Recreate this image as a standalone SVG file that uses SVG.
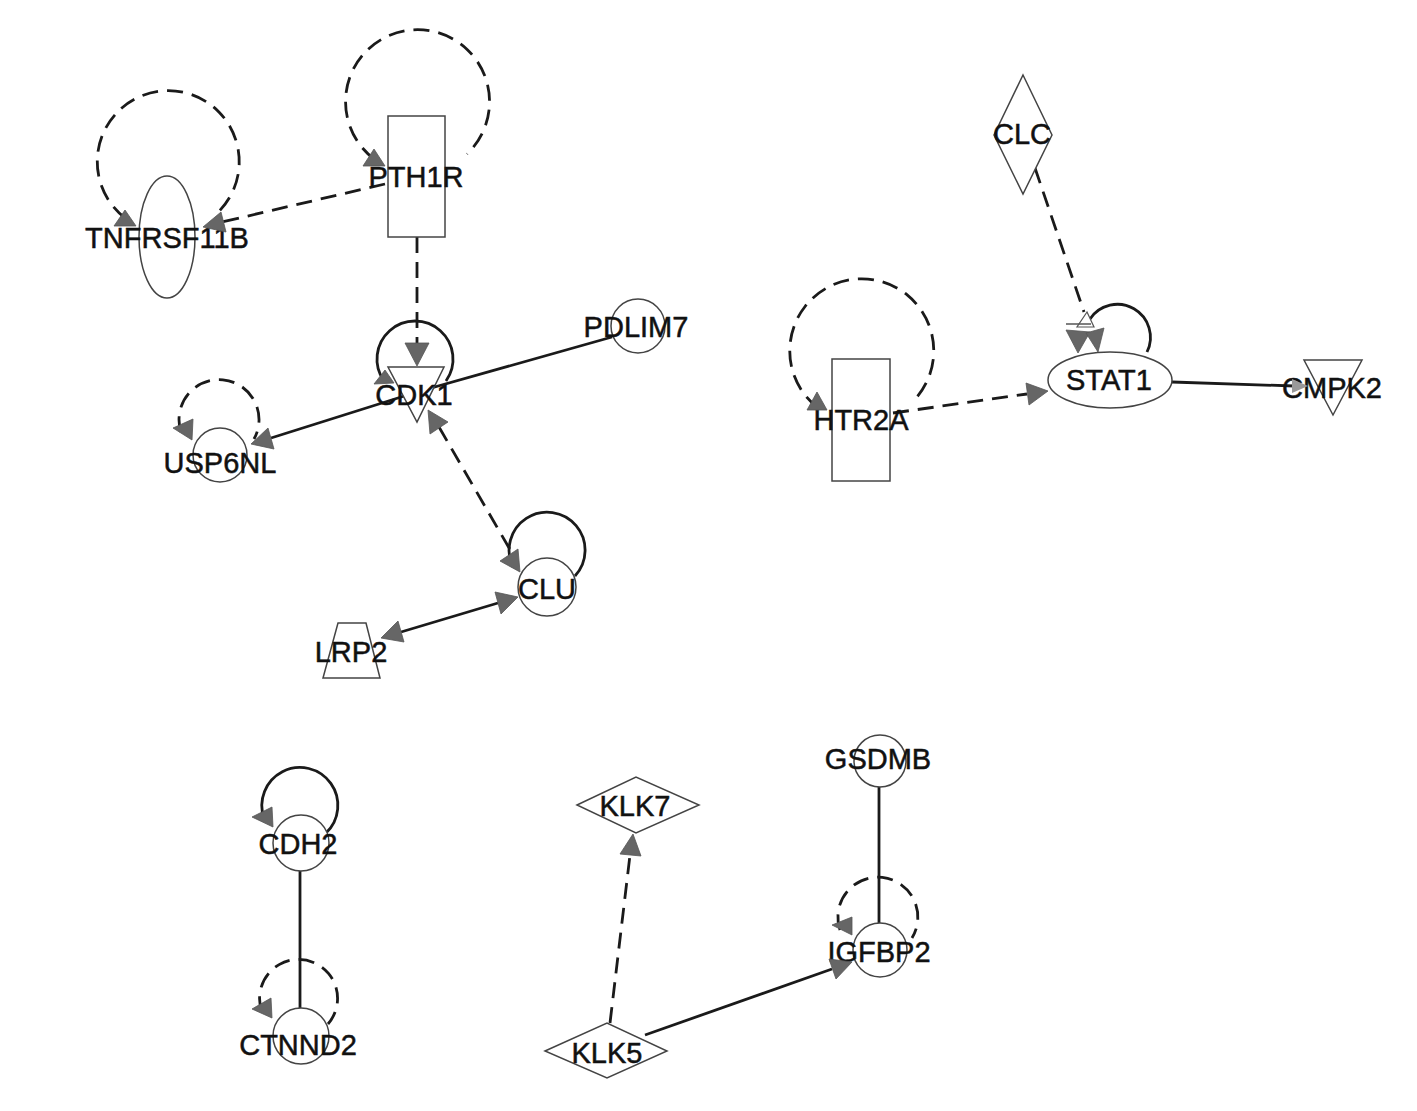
<svg xmlns="http://www.w3.org/2000/svg" width="1417" height="1111" viewBox="0 0 1417 1111">
<style>
.e{fill:none;stroke:#1a1a1a;stroke-width:2.8}
.d{stroke-dasharray:16 9}
.n{fill:#fff;stroke:#444;stroke-width:1.5}
.a{fill:#666;stroke:#555;stroke-width:0.8}
text{font-family:"Liberation Sans",Arial,sans-serif;font-size:29px;fill:#111;stroke:#111;stroke-width:0.5;text-anchor:middle}
</style>
<rect width="1417" height="1111" fill="#fff"/>
<g id="connectors">
<path class="e d" d="M125,218 A71,71 0 1 1 214,216"/>
<path class="e d" d="M374,159 A72,72 0 1 1 467,154"/>
<path class="e" d="M384,381 A38,38 0 1 1 446,381"/>
<path class="e d" d="M181,432 A40,40 0 1 1 254,439"/>
<path class="e" d="M513,567 A38,38 0 1 1 575,576"/>
<path class="e d" d="M818,408 A72,72 0 1 1 917,397"/>
<path class="e" d="M1090,319 A33,33 0 0 1 1147,352"/>
<path class="e" d="M264,818 A38,38 0 1 1 326,833"/>
<path class="e d" d="M262,1012 A39,39 0 1 1 328,1024"/>
<path class="e d" d="M840,930 A40,40 0 1 1 912,938"/>
<line class="e d" x1="385" y1="184" x2="222" y2="222"/>
<line class="e d" x1="417" y1="237" x2="417" y2="344"/>
<line class="e" x1="612" y1="337" x2="417" y2="392"/>
<line class="e" x1="417" y1="392" x2="271" y2="438"/>
<line class="e d" x1="439" y1="427" x2="512" y2="553"/>
<line class="e" x1="401" y1="632" x2="498" y2="603"/>
<line class="e d" x1="1035" y1="168" x2="1084" y2="312"/>
<line class="e d" x1="893" y1="413" x2="1027" y2="394"/>
<line class="e" x1="1172" y1="382" x2="1294" y2="386"/>
<line class="e" x1="300" y1="871" x2="300" y2="1008"/>
<line class="e" x1="879" y1="787" x2="879" y2="923"/>
<line class="e d" x1="610" y1="1023" x2="630" y2="855"/>
<line class="e" x1="645" y1="1035" x2="832" y2="969"/>
</g>
<g id="TNFRSF11B"><ellipse class="n" cx="167" cy="237" rx="28" ry="61"/><text x="167" y="248" font-size="30">TNFRSF11B</text></g>
<g id="PTH1R"><rect class="n" x="388" y="116" width="57" height="121"/><text x="416" y="187">PTH1R</text></g>
<g id="CDK1"><polygon class="n" points="388,367 444,367 417,422"/><text x="414" y="405">CDK1</text></g>
<g id="PDLIM7"><circle class="n" cx="638" cy="326" r="27"/><text x="636" y="337">PDLIM7</text></g>
<g id="USP6NL"><circle class="n" cx="220" cy="455" r="27"/><text x="220" y="473">USP6NL</text></g>
<g id="CLU"><circle class="n" cx="547" cy="587" r="29"/><text x="547" y="599">CLU</text></g>
<g id="LRP2"><polygon class="n" points="338,623 366,623 380,678 323,678"/><text x="351" y="662">LRP2</text></g>
<g id="CLC"><polygon class="n" points="1023,75 1052,135 1023,194 994,135"/><text x="1022" y="144">CLC</text></g>
<g id="HTR2A"><rect class="n" x="832" y="359" width="58" height="122"/><text x="861" y="430">HTR2A</text></g>
<g id="STAT1"><ellipse class="n" cx="1110" cy="380" rx="62" ry="28"/><text x="1109" y="390">STAT1</text></g>
<g id="CMPK2"><polygon class="n" points="1304,360 1362,360 1333,415"/><text x="1332" y="398">CMPK2</text></g>
<g id="CDH2"><circle class="n" cx="301" cy="843" r="28"/><text x="298" y="854">CDH2</text></g>
<g id="CTNND2"><circle class="n" cx="301" cy="1036" r="28"/><text x="298" y="1055">CTNND2</text></g>
<g id="KLK7"><polygon class="n" points="577,805 636,777 699,805 636,833"/><text x="635" y="816" font-size="27">KLK7</text></g>
<g id="KLK5"><polygon class="n" points="545,1051 607,1023 667,1051 607,1078"/><text x="607" y="1063">KLK5</text></g>
<g id="GSDMB"><circle class="n" cx="880" cy="761" r="26"/><text x="878" y="769">GSDMB</text></g>
<g id="IGFBP2"><circle class="n" cx="880" cy="950" r="27"/><text x="879" y="962">IGFBP2</text></g>
<g id="arrowheads">
<polygon class="a" points="125,210 114,226 136,226"/>
<polygon class="a" points="203,227 221,212 226,232"/>
<polygon class="a" points="374,149 363,166 385,166"/>
<polygon class="a" points="405,343 429,343 417,366"/>
<polygon class="a" points="385,370 374,384 394,383"/>
<polygon class="a" points="428,410 448,422 430,434"/>
<polygon class="a" points="251,444 268,428 274,449"/>
<polygon class="a" points="173,428 193,419 192,440"/>
<polygon class="a" points="520,572 518,549 500,561"/>
<polygon class="a" points="518,597 501,614 495,592"/>
<polygon class="a" points="381,638 398,621 404,642"/>
<polygon class="a" points="817,392 807,410 827,410"/>
<polygon class="a" points="1048,391 1029,405 1026,383"/>
<polygon points="1087,312 1077,327 1094,327" fill="#fff" stroke="#555" stroke-width="1.2"/>
<line x1="1066" y1="324" x2="1091" y2="324" stroke="#555" stroke-width="1.5"/>
<polygon class="a" points="1066,330 1090,332 1078,353"/>
<polygon class="a" points="1086,333 1104,328 1098,352"/>
<polygon points="1308,386 1292,379 1292,393" fill="#999"/>
<polygon class="a" points="252,817 272,807 273,827"/>
<polygon class="a" points="252,1009 271,998 272,1018"/>
<polygon class="a" points="832,925 852,917 852,935"/>
<polygon class="a" points="633,834 641,856 620,854"/>
<polygon class="a" points="852,962 836,979 829,959"/>
</g>
</svg>
